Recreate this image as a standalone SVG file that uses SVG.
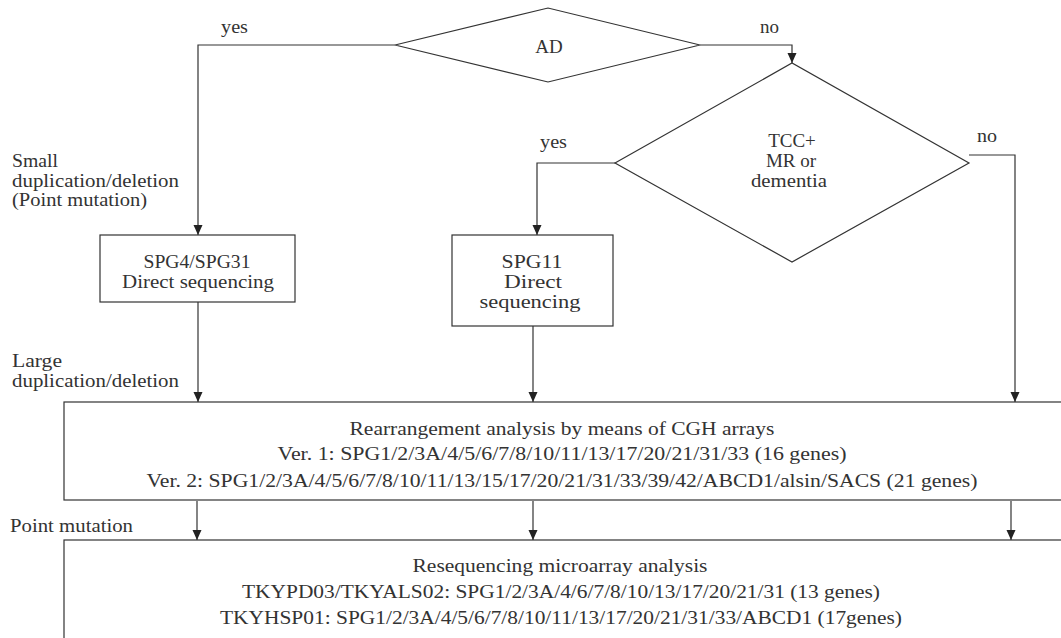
<svg xmlns="http://www.w3.org/2000/svg" width="1061" height="638" viewBox="0 0 1061 638">
<defs>
<marker id="arr" markerUnits="userSpaceOnUse" markerWidth="10" markerHeight="12" viewBox="0 0 10 12" refX="10" refY="6" orient="auto">
<path d="M0,1.5 L10,6 L0,10.5 Z" fill="#222"/>
</marker>
<style>
text{font-family:'Liberation Serif','DejaVu Serif',serif;font-size:19px;fill:#333;}
.c{text-anchor:middle;}
.s{fill:#fff;stroke:#333;stroke-width:1.2;}
.ln{fill:none;stroke:#333;stroke-width:1.2;}
</style>
</defs>
<rect width="1061" height="638" fill="#fff"/>

<g id="connectors">
<path class="ln" d="M395,45 H198 V235" marker-end="url(#arr)"/>
<path class="ln" d="M700,45 H792 V63" marker-end="url(#arr)"/>
<path class="ln" d="M615,163 H537 V235" marker-end="url(#arr)"/>
<path class="ln" d="M969,155 H1015 V402" marker-end="url(#arr)"/>
<path class="ln" d="M198,302 V402" marker-end="url(#arr)"/>
<path class="ln" d="M533,326 V402" marker-end="url(#arr)"/>
<path class="ln" d="M197,501 V540" marker-end="url(#arr)"/>
<path class="ln" d="M533,501 V540" marker-end="url(#arr)"/>
<path class="ln" d="M1011,501 V540" marker-end="url(#arr)"/>
</g>

<g id="labels" font-family="Liberation Serif, serif">
<text x="221" y="33" textLength="27" lengthAdjust="spacingAndGlyphs">yes</text>
<text x="760" y="33" textLength="19" lengthAdjust="spacingAndGlyphs">no</text>
<text x="540" y="148" textLength="27" lengthAdjust="spacingAndGlyphs">yes</text>
<text x="977" y="142" textLength="20" lengthAdjust="spacingAndGlyphs">no</text>
<text x="12" y="167" textLength="46" lengthAdjust="spacingAndGlyphs">Small</text>
<text x="12" y="187" textLength="167" lengthAdjust="spacingAndGlyphs">duplication/deletion</text>
<text x="12" y="206" textLength="135" lengthAdjust="spacingAndGlyphs">(Point mutation)</text>
<text x="12" y="367" textLength="50" lengthAdjust="spacingAndGlyphs">Large</text>
<text x="12" y="387" textLength="167" lengthAdjust="spacingAndGlyphs">duplication/deletion</text>
<text x="10" y="532" textLength="123" lengthAdjust="spacingAndGlyphs">Point mutation</text>
</g>

<g id="node-ad">
<polygon class="s" points="395,45 548,8 700,45 548,82"/>
<text class="c" x="549" y="53">AD</text>
</g>

<g id="node-tcc">
<polygon class="s" points="615,163 792,63 969,163 792,262"/>
<text class="c" x="792" y="147">TCC+</text>
<text class="c" x="791" y="167">MR or</text>
<text class="c" x="789" y="187" textLength="76" lengthAdjust="spacingAndGlyphs">dementia</text>
</g>

<g id="node-spg4">
<rect class="s" x="100" y="235" width="195" height="67"/>
<text class="c" x="197" y="268" textLength="107" lengthAdjust="spacingAndGlyphs">SPG4/SPG31</text>
<text class="c" x="198" y="288" textLength="152" lengthAdjust="spacingAndGlyphs">Direct sequencing</text>
</g>

<g id="node-spg11">
<rect class="s" x="452" y="235" width="161" height="91"/>
<text class="c" x="532" y="268" textLength="61" lengthAdjust="spacingAndGlyphs">SPG11</text>
<text class="c" x="533" y="288" textLength="58" lengthAdjust="spacingAndGlyphs">Direct</text>
<text class="c" x="530" y="308" textLength="101" lengthAdjust="spacingAndGlyphs">sequencing</text>
</g>

<g id="node-cgh">
<rect class="s" x="64" y="402" width="1100" height="98"/>
<text class="c" x="562" y="435" textLength="425" lengthAdjust="spacingAndGlyphs">Rearrangement analysis by means of CGH arrays</text>
<text class="c" x="562" y="460" textLength="569" lengthAdjust="spacingAndGlyphs">Ver. 1: SPG1/2/3A/4/5/6/7/8/10/11/13/17/20/21/31/33 (16 genes)</text>
<text class="c" x="562" y="487" textLength="831" lengthAdjust="spacingAndGlyphs">Ver. 2: SPG1/2/3A/4/5/6/7/8/10/11/13/15/17/20/21/31/33/39/42/ABCD1/alsin/SACS (21 genes)</text>
</g>

<g id="node-reseq">
<rect class="s" x="64" y="540" width="1100" height="200"/>
<text class="c" x="560" y="572" textLength="295" lengthAdjust="spacingAndGlyphs">Resequencing microarray analysis</text>
<text class="c" x="561" y="598" textLength="638" lengthAdjust="spacingAndGlyphs">TKYPD03/TKYALS02: SPG1/2/3A/4/6/7/8/10/13/17/20/21/31 (13 genes)</text>
<text class="c" x="561" y="624" textLength="682" lengthAdjust="spacingAndGlyphs">TKYHSP01: SPG1/2/3A/4/5/6/7/8/10/11/13/17/20/21/31/33/ABCD1 (17genes)</text>
</g>
</svg>
